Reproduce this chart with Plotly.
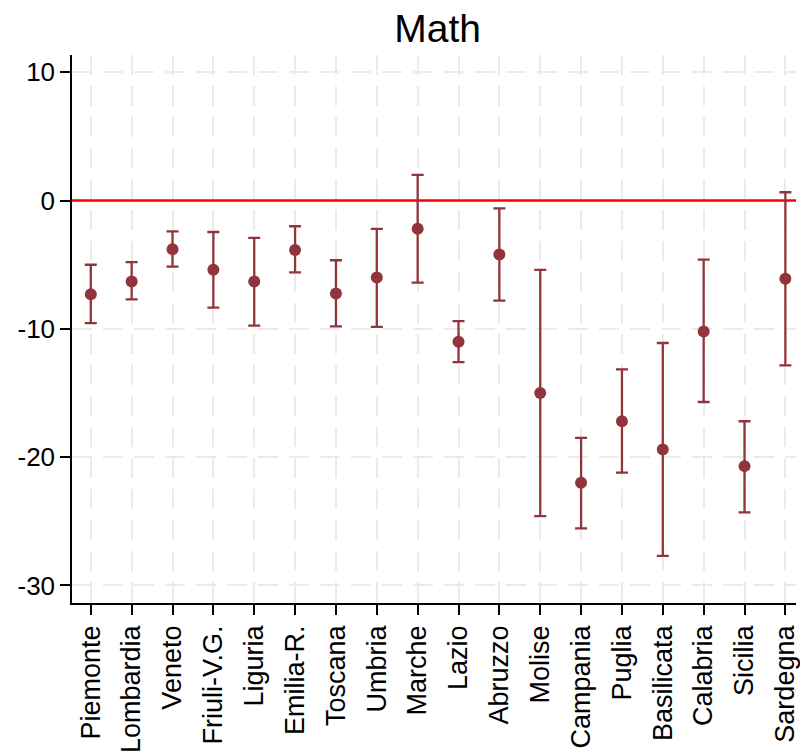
import plotly.graph_objects as go

# Regional gaps in Math scores with confidence intervals
regions = ["Piemonte", "Lombardia", "Veneto", "Friuli-V.G.", "Liguria", "Emilia-R.",
           "Toscana", "Umbria", "Marche", "Lazio", "Abruzzo", "Molise", "Campania",
           "Puglia", "Basilicata", "Calabria", "Sicilia", "Sardegna"]
estimate = [-7.3, -6.3, -3.8, -5.4, -6.3, -3.85, -7.25, -6.0, -2.2, -11.0, -4.2,
            -15.0, -22.0, -17.2, -19.4, -10.2, -20.7, -6.1]
ci_low = [-9.55, -7.7, -5.15, -8.35, -9.75, -5.6, -9.8, -9.85, -6.4, -12.6, -7.8,
          -24.6, -25.55, -21.2, -27.7, -15.7, -24.3, -12.85]
ci_high = [-5.0, -4.8, -2.4, -2.45, -2.9, -2.0, -4.65, -2.2, 2.0, -9.4, -0.6,
           -5.4, -18.5, -13.15, -11.1, -4.6, -17.2, 0.65]
y_ticks = [10, 0, -10, -20, -30]
zero_ref = 0

maroon = "#90353B"
font_family = "Liberation Sans, Arial, Helvetica, sans-serif"

fig = go.Figure()

# Zero reference line on a hidden 0..1 axis so it sits above the grid
fig.add_trace(go.Scatter(
    x=[0, 1], y=[zero_ref, zero_ref],
    xaxis="x", yaxis="y",
    mode="lines", line=dict(color="#ff0000", width=2.5),
    hoverinfo="skip", showlegend=False,
))

# Point estimates with confidence intervals
fig.add_trace(go.Scatter(
    x=regions,
    y=estimate,
    xaxis="x2", yaxis="y",
    mode="markers",
    marker=dict(color=maroon, size=12, line=dict(width=0)),
    error_y=dict(
        type="data",
        symmetric=False,
        array=[h - e for h, e in zip(ci_high, estimate)],
        arrayminus=[e - l for e, l in zip(estimate, ci_low)],
        color=maroon,
        thickness=2.3,
        width=6,
    ),
    showlegend=False,
))

grid_style = dict(showgrid=True, gridcolor="#ebebeb", gridwidth=2, griddash="20px,11px")

fig.update_layout(
    width=800, height=753,
    margin=dict(l=72, r=0, t=55, b=149),
    paper_bgcolor="white", plot_bgcolor="white",
    font=dict(family=font_family, color="black"),
    title=dict(text="Math", x=0.505, xref="paper", y=1 - 28 / 753, yref="container",
               yanchor="middle", xanchor="center", font=dict(size=39, color="black")),
    xaxis=dict(range=[0, 1], visible=False, showgrid=False, zeroline=False, fixedrange=True),
    xaxis2=dict(
        overlaying="x", anchor="y", side="bottom",
        range=[-0.46, 17.26],
        tickangle=-90,
        ticks="outside", ticklen=10, tickwidth=1.5, tickcolor="black",
        showline=True, linecolor="black", linewidth=1.5,
        tickfont=dict(size=27, color="black"),
        zeroline=False,
        **grid_style,
    ),
    yaxis=dict(
        range=[-31.37, 11.35],
        tickvals=y_ticks,
        ticktext=[str(v) for v in y_ticks],
        ticks="outside", ticklen=10, tickwidth=1.5, tickcolor="black",
        showline=True, linecolor="black", linewidth=1.5,
        tickfont=dict(size=26, color="black"),
        zeroline=False,
        **grid_style,
    ),
)

fig.write_html("out.html")
